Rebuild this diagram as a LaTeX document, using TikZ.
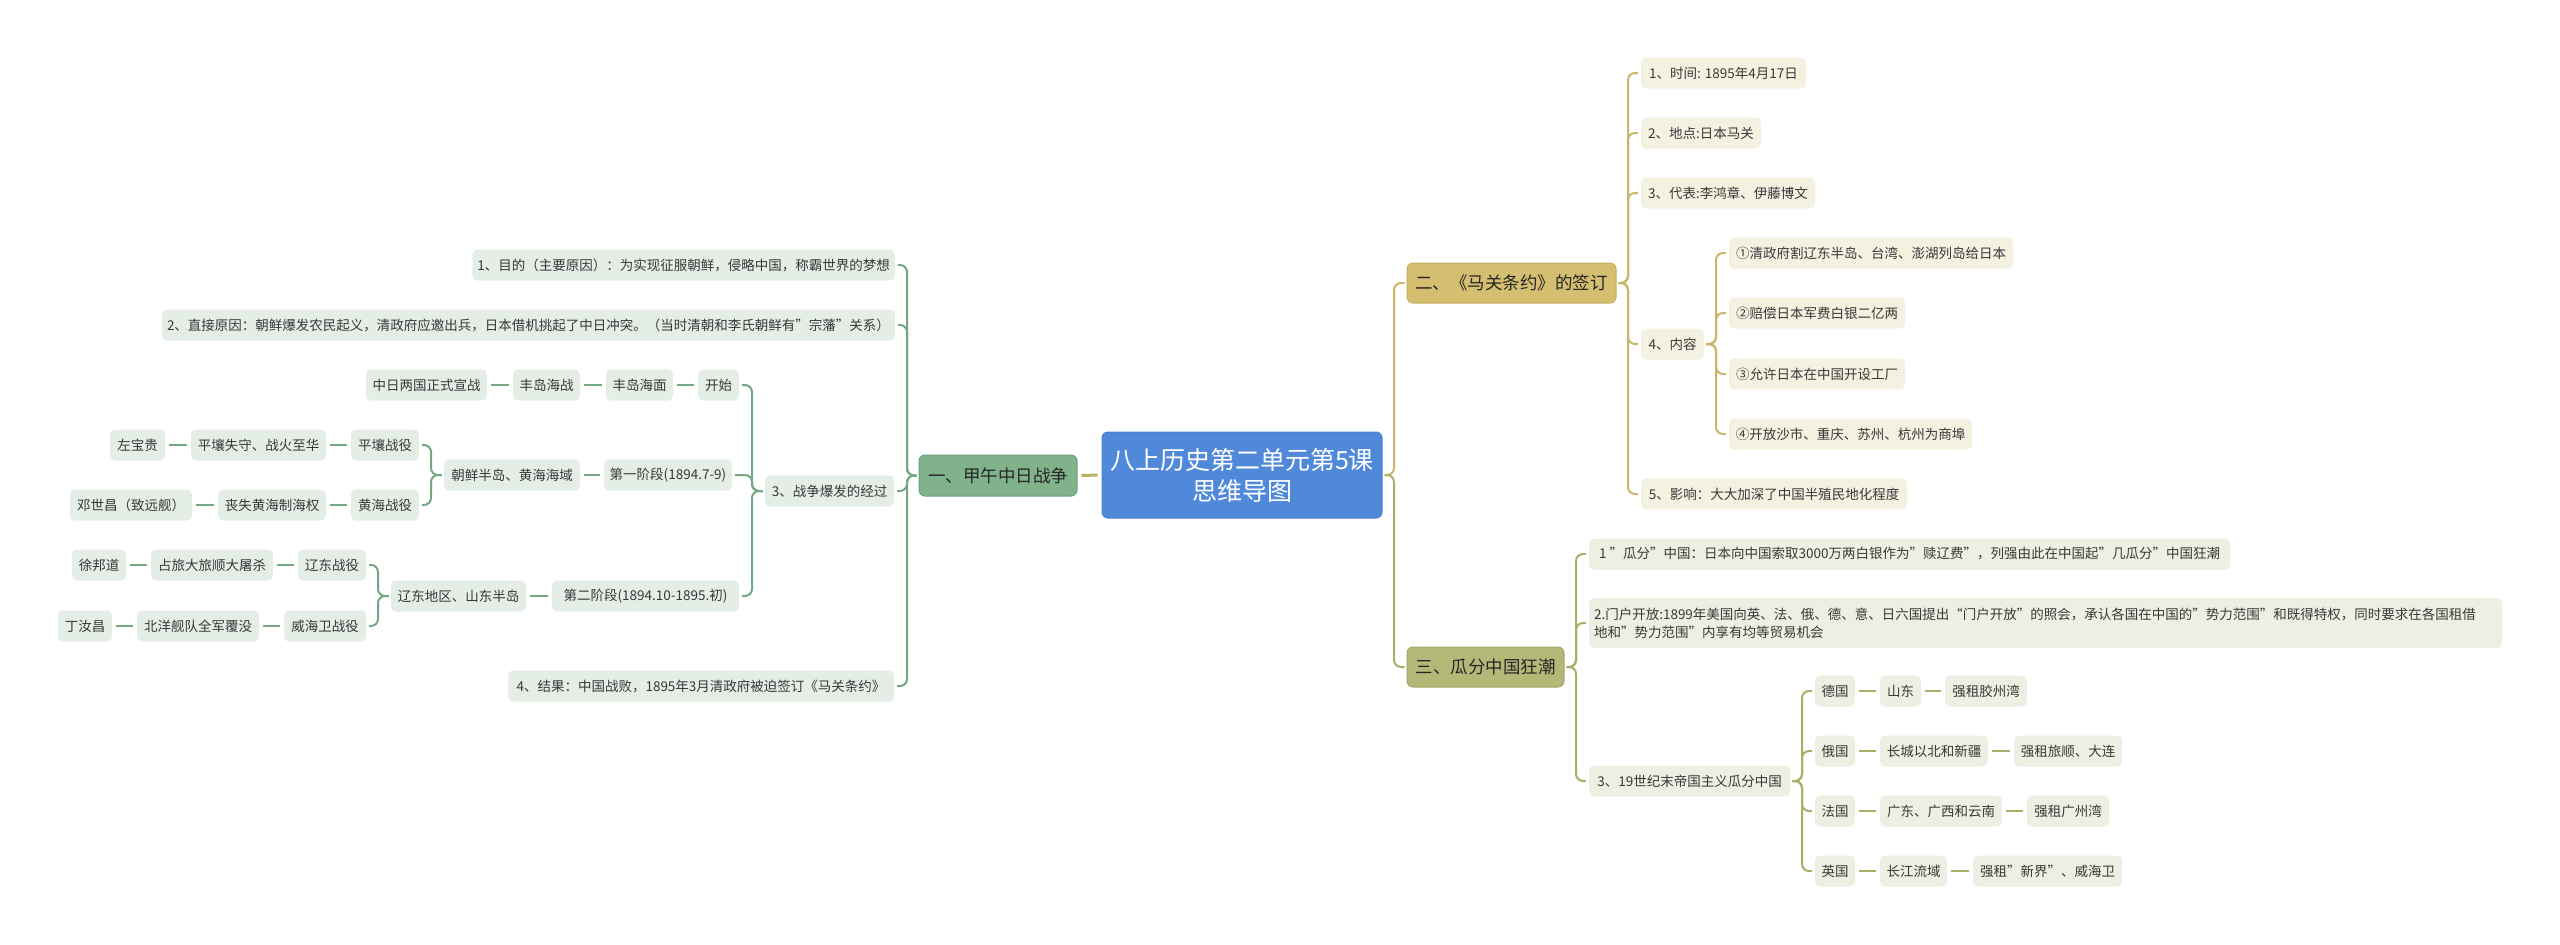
\documentclass[tikz,border=0pt]{standalone}
\usepackage{fontspec}
\newfontfamily\cjk{Noto Sans CJK SC}
\definecolor{rootc}{HTML}{5089DA}
\definecolor{rootb}{HTML}{4A7FCC}
\definecolor{gmain}{HTML}{80B28B}
\definecolor{gmainb}{HTML}{6EA27B}
\definecolor{gline}{HTML}{76A783}
\definecolor{gfill}{HTML}{E4EDE6}
\definecolor{ymain}{HTML}{D5BE70}
\definecolor{ymainb}{HTML}{C7AF5F}
\definecolor{yline}{HTML}{CCB46A}
\definecolor{yfill}{HTML}{F5F1E1}
\definecolor{omain}{HTML}{B3B876}
\definecolor{omainb}{HTML}{A3A866}
\definecolor{oline}{HTML}{A9AF69}
\definecolor{ofill}{HTML}{EEEFE2}
\definecolor{rline}{HTML}{B8B262}
\begin{document}
\begin{tikzpicture}[x=1pt,y=-1pt,
  base/.style={rounded corners=5pt, inner ysep=0pt, font=\cjk\fontsize{13.5}{18}\selectfont, text=black!78},
  leaf/.style={base, inner xsep=5pt, minimum height=31pt},
  gleaf/.style={leaf, fill=gfill},
  yleaf/.style={leaf, fill=yfill},
  oleaf/.style={leaf, fill=ofill},
  mainnode/.style={rounded corners=6pt, inner xsep=8pt, minimum height=41pt, font=\cjk\fontsize{17.5}{21}\selectfont, text=black!85, line width=1pt},
  rootnode/.style={rounded corners=6pt, fill=rootc, draw=rootb, line width=1pt, text=white, align=center, font=\cjk\fontsize{25}{31}\selectfont},
  gbr/.style={draw=gline, line width=2pt, rounded corners=7pt},
  ybr/.style={draw=yline, line width=2pt, rounded corners=7pt},
  obr/.style={draw=oline, line width=2pt, rounded corners=7pt},
  gdash/.style={draw=gline, line width=2.6pt, shorten <=4pt, shorten >=4pt},
  odash/.style={draw=oline, line width=2.6pt, shorten <=4pt, shorten >=4pt},
  rdash/.style={draw=rline, line width=3pt, shorten <=4pt, shorten >=4pt}]
\fill[white] (0,0) rectangle (2560,945);
\useasboundingbox (0,0) rectangle (2560,945);

% root and main branches
\node[rootnode, minimum width=280pt, minimum height=86pt] (root) at (1242,475) {八上历史第二单元第5课\\思维导图};
\node[mainnode, fill=gmain, draw=gmainb, minimum width=158pt] (b1) at (998,475.5) {一、甲午中日战争};
\node[mainnode, fill=ymain, draw=ymainb, minimum width=209pt, minimum height=40pt] (b2) at (1511.5,283) {二、《马关条约》的签订};
\node[mainnode, fill=omain, draw=omainb, minimum width=157pt, minimum height=40pt] (b3) at (1485.5,667) {三、瓜分中国狂潮};

% branch 1 (left)
\node[gleaf, minimum width=421pt] (L1) at (683.5,265) {1、目的（主要原因）：为实现征服朝鲜，侵略中国，称霸世界的梦想};
\node[gleaf, minimum width=731pt] (L2) at (528.5,325) {2、直接原因：朝鲜爆发农民起义，清政府应邀出兵，日本借机挑起了中日冲突。（当时清朝和李氏朝鲜有”宗藩”关系）};
\node[gleaf, minimum width=129pt] (L3) at (829.5,491) {3、战争爆发的经过};
\node[gleaf, minimum width=386pt] (L4) at (701,686) {4、结果：中国战败，1895年3月清政府被迫签订《马关条约》};

\node[gleaf, minimum width=41pt] (k1) at (718.5,385) {开始};
\node[gleaf, minimum width=67pt] (k2) at (639.5,385) {丰岛海面};
\node[gleaf, minimum width=67pt] (k3) at (546.5,385) {丰岛海战};
\node[gleaf, minimum width=121pt] (k4) at (426.5,385) {中日两国正式宣战};

\node[gleaf, minimum width=128pt] (s1) at (668,475) {第一阶段(1894.7-9)};
\node[gleaf, minimum width=136pt] (s1a) at (512,475) {朝鲜半岛、黄海海域};
\node[gleaf, minimum width=68pt] (p1) at (385,445) {平壤战役};
\node[gleaf, minimum width=135pt] (p2) at (258.5,445) {平壤失守、战火至华};
\node[gleaf, minimum width=55pt] (p3) at (137.5,445) {左宝贵};
\node[gleaf, minimum width=68pt] (h1) at (385,505) {黄海战役};
\node[gleaf, minimum width=108pt] (h2) at (272,505) {丧失黄海制海权};
\node[gleaf, minimum width=122pt] (h3) at (131,505) {邓世昌（致远舰）};

\node[gleaf, minimum width=187pt] (s2) at (645.5,596) {第二阶段(1894.10-1895.初)};
\node[gleaf, minimum width=135pt] (s2a) at (458.5,596) {辽东地区、山东半岛};
\node[gleaf, minimum width=68pt] (l1) at (332,565) {辽东战役};
\node[gleaf, minimum width=122pt] (l2) at (212,565) {占旅大旅顺大屠杀};
\node[gleaf, minimum width=54pt] (l3) at (99,565) {徐邦道};
\node[gleaf, minimum width=82pt] (w1) at (325,626) {威海卫战役};
\node[gleaf, minimum width=122pt] (w2) at (198,626) {北洋舰队全军覆没};
\node[gleaf, minimum width=54pt] (w3) at (85,626) {丁汝昌};

% branch 2 (right, top)
\node[yleaf, minimum width=165pt] (m1) at (1723.5,73) {1、时间: 1895年4月17日};
\node[yleaf, minimum width=120pt] (m2) at (1701,133) {2、地点:日本马关};
\node[yleaf, minimum width=174pt] (m3) at (1728,193) {3、代表:李鸿章、伊藤博文};
\node[yleaf, minimum width=63pt] (m4) at (1672.5,344) {4、内容};
\node[yleaf, minimum width=266pt] (m5) at (1774,494) {5、影响：大大加深了中国半殖民地化程度};
\node[yleaf, minimum width=284pt] (c1) at (1871,253) {①清政府割辽东半岛、台湾、澎湖列岛给日本};
\node[yleaf, minimum width=176pt] (c2) at (1817,313) {②赔偿日本军费白银二亿两};
\node[yleaf, minimum width=176pt] (c3) at (1817,374) {③允许日本在中国开设工厂};
\node[yleaf, minimum width=243pt] (c4) at (1850.5,434) {④开放沙市、重庆、苏州、杭州为商埠};

% branch 3 (right, bottom)
\node[oleaf, minimum width=641pt] (g1) at (1909.5,554) {1 ”瓜分”中国：日本向中国索取3000万两白银作为”赎辽费”，列强由此在中国起”几瓜分”中国狂潮};
\node[oleaf, minimum height=50pt, text width=903pt, align=left] (g2) at (2045.5,623) {2.门户开放:1899年美国向英、法、俄、德、意、日六国提出“门户开放”的照会，承认各国在中国的”势力范围”和既得特权，同时要求在各国租借\\地和”势力范围”内享有均等贸易机会};
\node[oleaf, minimum width=201pt] (g3) at (1689.5,781) {3、19世纪末帝国主义瓜分中国};

\node[oleaf, minimum width=40pt] (d1) at (1835,691) {德国};
\node[oleaf, minimum width=41pt] (d2) at (1900.5,691) {山东};
\node[oleaf, minimum width=82pt] (d3) at (1986,691) {强租胶州湾};
\node[oleaf, minimum width=40pt] (e1) at (1835,751) {俄国};
\node[oleaf, minimum width=108pt] (e2) at (1934,751) {长城以北和新疆};
\node[oleaf, minimum width=108pt] (e3) at (2068,751) {强租旅顺、大连};
\node[oleaf, minimum width=40pt] (f1) at (1835,811) {法国};
\node[oleaf, minimum width=122pt] (f2) at (1941,811) {广东、广西和云南};
\node[oleaf, minimum width=82pt] (f3) at (2068,811) {强租广州湾};
\node[oleaf, minimum width=40pt] (u1) at (1835,871) {英国};
\node[oleaf, minimum width=67pt] (u2) at (1913.5,871) {长江流域};
\node[oleaf, minimum width=149pt] (u3) at (2047.5,871) {强租”新界”、威海卫};

% vertical bracket lines
\coordinate (rv) at (1394,0);
\coordinate (v1) at (907,0);
\coordinate (v2) at (752,0);
\coordinate (v3) at (431,0);
\coordinate (v4) at (378,0);
\coordinate (v5) at (1628,0);
\coordinate (v6) at (1716,0);
\coordinate (v7) at (1576,0);
\coordinate (v8) at (1802,0);

% root connectors
\draw[rdash] (root.west) -- (b1.east);
\draw[ybr] ([xshift=2pt]root.east) -- (rv |- root.east) -- (rv |- b2.west) -- ([xshift=-2pt]b2.west);
\draw[obr] ([xshift=2pt]root.east) -- (rv |- root.east) -- (rv |- b3.west) -- ([xshift=-2pt]b3.west);

% left brackets
\foreach \c in {L1,L2,L3,L4}
  \draw[gbr] ([xshift=-2pt]b1.west) -- (v1 |- b1.west) -- (v1 |- \c.east) -- ([xshift=3pt]\c.east);
\foreach \c in {k1,s1,s2}
  \draw[gbr] ([xshift=-2pt]L3.west) -- (v2 |- L3.west) -- (v2 |- \c.east) -- ([xshift=3pt]\c.east);
\foreach \c in {p1,h1}
  \draw[gbr] ([xshift=-2pt]s1a.west) -- (v3 |- s1a.west) -- (v3 |- \c.east) -- ([xshift=3pt]\c.east);
\foreach \c in {l1,w1}
  \draw[gbr] ([xshift=-2pt]s2a.west) -- (v4 |- s2a.west) -- (v4 |- \c.east) -- ([xshift=3pt]\c.east);

% left chains
\draw[gdash] (k1.west) -- (k2.east);
\draw[gdash] (k2.west) -- (k3.east);
\draw[gdash] (k3.west) -- (k4.east);
\draw[gdash] (s1.west) -- (s1a.east);
\draw[gdash] (p1.west) -- (p2.east);
\draw[gdash] (p2.west) -- (p3.east);
\draw[gdash] (h1.west) -- (h2.east);
\draw[gdash] (h2.west) -- (h3.east);
\draw[gdash] (s2.west) -- (s2a.east);
\draw[gdash] (l1.west) -- (l2.east);
\draw[gdash] (l2.west) -- (l3.east);
\draw[gdash] (w1.west) -- (w2.east);
\draw[gdash] (w2.west) -- (w3.east);

% right brackets
\foreach \c in {m1,m2,m3,m4,m5}
  \draw[ybr] ([xshift=2pt]b2.east) -- (v5 |- b2.east) -- (v5 |- \c.west) -- ([xshift=-3pt]\c.west);
\foreach \c in {c1,c2,c3,c4}
  \draw[ybr] ([xshift=2pt]m4.east) -- (v6 |- m4.east) -- (v6 |- \c.west) -- ([xshift=-3pt]\c.west);
\foreach \c in {g1,g2,g3}
  \draw[obr] ([xshift=2pt]b3.east) -- (v7 |- b3.east) -- (v7 |- \c.west) -- ([xshift=-3pt]\c.west);
\foreach \c in {d1,e1,f1,u1}
  \draw[obr] ([xshift=2pt]g3.east) -- (v8 |- g3.east) -- (v8 |- \c.west) -- ([xshift=-3pt]\c.west);

% right chains
\draw[odash] (d1.east) -- (d2.west);
\draw[odash] (d2.east) -- (d3.west);
\draw[odash] (e1.east) -- (e2.west);
\draw[odash] (e2.east) -- (e3.west);
\draw[odash] (f1.east) -- (f2.west);
\draw[odash] (f2.east) -- (f3.west);
\draw[odash] (u1.east) -- (u2.west);
\draw[odash] (u2.east) -- (u3.west);
\end{tikzpicture}
\end{document}
